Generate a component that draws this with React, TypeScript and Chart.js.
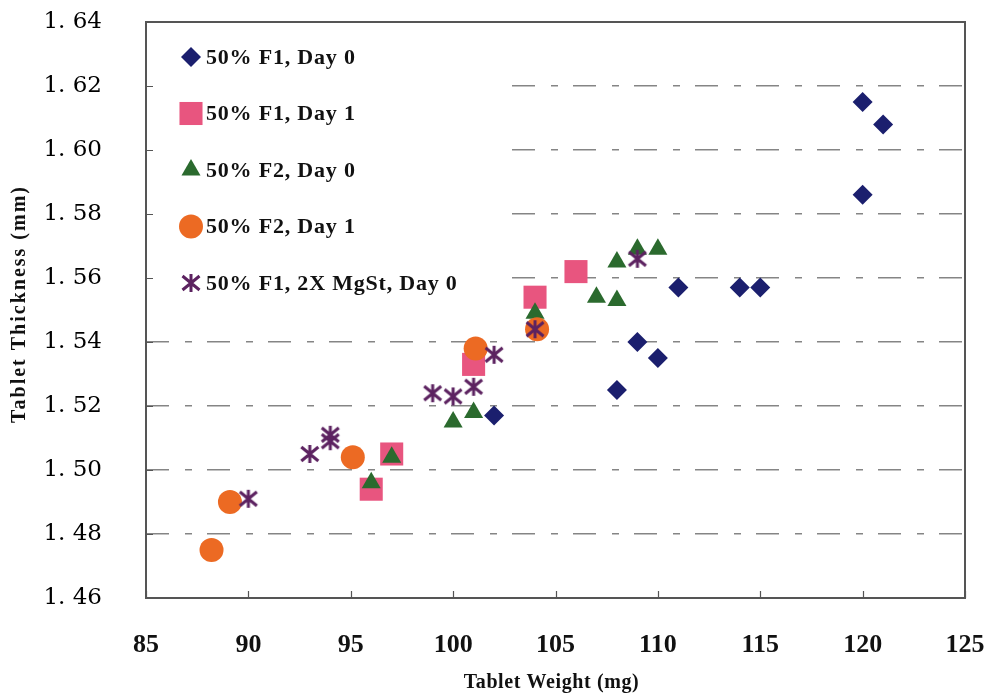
import React, { useEffect, useRef } from 'react';
import { Chart, registerables } from 'chart.js';

Chart.register(...registerables);

// ---- data ----
const seriesLabels = [
  '50% F1, Day 0',
  '50% F1, Day 1',
  '50% F2, Day 0',
  '50% F2, Day 1',
  '50% F1, 2X MgSt, Day 0',
];

const f1Day0X = [102, 108, 109, 110, 111, 114, 115, 120, 120, 121];
const f1Day0Y = [1.517, 1.525, 1.540, 1.535, 1.557, 1.557, 1.557, 1.586, 1.615, 1.608];

const f1Day1X = [96, 97, 101, 104, 106];
const f1Day1Y = [1.494, 1.505, 1.533, 1.554, 1.562];

const f2Day0X = [96, 97, 100, 101, 104, 107, 108, 108, 109, 110];
const f2Day0Y = [1.496, 1.504, 1.515, 1.518, 1.549, 1.554, 1.553, 1.565, 1.569, 1.569];

const f2Day1X = [88.2, 89.1, 95.1, 101.1, 104.1];
const f2Day1Y = [1.475, 1.490, 1.504, 1.538, 1.544];

const mgStX = [90, 93, 94, 94, 99, 100, 101, 102, 104, 109];
const mgStY = [1.491, 1.505, 1.509, 1.511, 1.524, 1.523, 1.526, 1.536, 1.544, 1.566];

const xTickValues = [85, 90, 95, 100, 105, 110, 115, 120, 125];
const yTickValues = [1.46, 1.48, 1.50, 1.52, 1.54, 1.56, 1.58, 1.60, 1.62, 1.64];
const yTickLabels = ['1. 46', '1. 48', '1. 50', '1. 52', '1. 54', '1. 56', '1. 58', '1. 60', '1. 62', '1. 64'];

const xTitle = 'Tablet Weight (mg)';
const yTitle = 'Tablet Thickness (mm)';

// ---- styles ----
const colors = ['#1b1f6e', '#e8557f', '#2b6a2e', '#ec6a23', '#5c2260'];
const SERIF = '"Liberation Serif", "Times New Roman", serif';

function zip(xs: number[], ys: number[]) {
  return xs.map((x, i) => ({ x, y: ys[i] }));
}

function makeStar(color: string) {
  const c = document.createElement('canvas');
  c.width = 22;
  c.height = 22;
  const g = c.getContext('2d')!;
  g.strokeStyle = color;
  g.lineWidth = 3;
  g.beginPath();
  g.moveTo(11, 2);
  g.lineTo(11, 20);
  g.moveTo(2.5, 4);
  g.lineTo(19.5, 18);
  g.moveTo(2.5, 18);
  g.lineTo(19.5, 4);
  g.stroke();
  return c;
}

function drawMarker(ctx: CanvasRenderingContext2D, ds: any, x: number, y: number) {
  const style = ds.pointStyle;
  const r = ds.pointRadius;
  ctx.fillStyle = ds.backgroundColor;
  ctx.beginPath();
  if (style === 'rectRot') {
    ctx.moveTo(x, y - r);
    ctx.lineTo(x + r, y);
    ctx.lineTo(x, y + r);
    ctx.lineTo(x - r, y);
    ctx.closePath();
    ctx.fill();
  } else if (style === 'rect') {
    const h = r * Math.SQRT1_2;
    ctx.fillRect(x - h, y - h, 2 * h, 2 * h);
  } else if (style === 'triangle') {
    ctx.moveTo(x, y - r);
    ctx.lineTo(x + r * Math.sin(Math.PI / 3), y + r / 2);
    ctx.lineTo(x - r * Math.sin(Math.PI / 3), y + r / 2);
    ctx.closePath();
    ctx.fill();
  } else if (style === 'circle') {
    ctx.arc(x, y, r, 0, Math.PI * 2);
    ctx.fill();
  } else if (style instanceof HTMLCanvasElement) {
    ctx.drawImage(style, x - style.width / 2, y - style.height / 2);
  }
}

const framePlugin = {
  id: 'framePlugin',
  beforeDatasetsDraw(chart: any) {
    const { ctx, chartArea: a } = chart;
    ctx.save();
    // legend box (white, covers grid lines)
    ctx.fillStyle = '#ffffff';
    ctx.fillRect(a.left + 1, a.top + 1, 358, 282);
    // legend items
    const items = chart.data.datasets;
    ctx.font = 'bold 22px ' + SERIF;
    ctx.textBaseline = 'middle';
    ctx.textAlign = 'left';
    try { (ctx as any).letterSpacing = '0.8px'; } catch (e) {}
    items.forEach((ds: any, i: number) => {
      const cy = a.top + 35 + i * 56.5;
      drawMarker(ctx, ds, a.left + 45, cy);
      ctx.fillStyle = '#111111';
      ctx.fillText(ds.label, a.left + 60, cy + 1);
    });
    // axis titles
    ctx.fillStyle = '#111111';
    ctx.font = 'bold 20px ' + SERIF;
    ctx.textAlign = 'center';
    try { (ctx as any).letterSpacing = '0.6px'; } catch (e) {}
    ctx.fillText(xTitle, (a.left + a.right) / 2 - 4, 683);
    ctx.save();
    ctx.translate(20, (a.top + a.bottom) / 2 - 6);
    ctx.rotate(-Math.PI / 2);
    try { (ctx as any).letterSpacing = '2px'; } catch (e) {}
    ctx.fillText(yTitle, 0, 0);
    ctx.restore();
    try { (ctx as any).letterSpacing = '0px'; } catch (e) {}
    // frame
    ctx.strokeStyle = '#555555';
    ctx.lineWidth = 2;
    ctx.strokeRect(a.left, a.top, a.right - a.left, a.bottom - a.top);
    // inward tick marks
    ctx.lineWidth = 1.2;
    const xs = chart.scales.x;
    const ys = chart.scales.y;
    ctx.beginPath();
    xTickValues.forEach((v) => {
      const px = Math.round(xs.getPixelForValue(v)) + 0.5;
      ctx.moveTo(px, a.bottom);
      ctx.lineTo(px, a.bottom - 7);
    });
    yTickValues.forEach((v) => {
      const py = Math.round(ys.getPixelForValue(v)) + 0.5;
      ctx.moveTo(a.left, py);
      ctx.lineTo(a.left + 7, py);
    });
    ctx.stroke();
    ctx.restore();
  },
};

export default function App() {
  const ref = useRef<HTMLCanvasElement | null>(null);

  useEffect(() => {
    if (!ref.current) return;
    const star = makeStar(colors[4]);
    const common = { showLine: false, pointBorderWidth: 0, borderWidth: 0 };
    const datasets: any[] = [
      { ...common, label: seriesLabels[0], data: zip(f1Day0X, f1Day0Y), pointStyle: 'rectRot', pointRadius: 10, backgroundColor: colors[0], borderColor: colors[0], order: 4 },
      { ...common, label: seriesLabels[1], data: zip(f1Day1X, f1Day1Y), pointStyle: 'rect', pointRadius: 16.3, backgroundColor: colors[1], borderColor: colors[1], order: 3 },
      { ...common, label: seriesLabels[2], data: zip(f2Day0X, f2Day0Y), pointStyle: 'triangle', pointRadius: 11, backgroundColor: colors[2], borderColor: colors[2], order: 2 },
      { ...common, label: seriesLabels[3], data: zip(f2Day1X, f2Day1Y), pointStyle: 'circle', pointRadius: 12, backgroundColor: colors[3], borderColor: colors[3], order: 1 },
      { ...common, label: seriesLabels[4], data: zip(mgStX, mgStY), pointStyle: star, pointRadius: 10, backgroundColor: colors[4], borderColor: colors[4], order: 0 },
    ];

    const chart = new Chart(ref.current, {
      type: 'scatter',
      data: { datasets },
      plugins: [framePlugin],
      options: {
        animation: false,
        responsive: true,
        maintainAspectRatio: false,
        events: [],
        layout: { padding: 0 },
        plugins: { legend: { display: false }, tooltip: { enabled: false } },
        scales: {
          x: {
            type: 'linear',
            min: 85,
            max: 125,
            afterFit: (s: any) => { s.height = 96; s.paddingLeft = 0; s.paddingRight = 24; },
            afterBuildTicks: (s: any) => { s.ticks = xTickValues.map((v) => ({ value: v })); },
            grid: { display: false, drawTicks: false },
            border: { display: false },
            ticks: {
              padding: 32,
              color: '#111111',
              font: { family: SERIF, size: 26, weight: 'bold' },
              callback: (v: any) => String(v),
            },
            title: { display: false, text: xTitle },
          },
          y: {
            type: 'linear',
            min: 1.46,
            max: 1.64,
            afterFit: (s: any) => { s.width = 146; s.paddingTop = 22; s.paddingBottom = 0; },
            afterBuildTicks: (s: any) => { s.ticks = yTickValues.map((v) => ({ value: v })); },
            grid: { display: true, drawTicks: false, color: '#858585', lineWidth: 1.5, borderDash: [23, 16, 7, 15] } as any,
            border: { display: false, dash: [23, 16, 7, 15], dashOffset: 0 },
            ticks: {
              padding: 44,
              color: '#000000',
              font: { family: '"DejaVu Serif", serif', size: 23 },
              callback: (v: any, i: number) => yTickLabels[i],
            },
            title: { display: false, text: yTitle },
          },
        },
      } as any,
    });
    return () => chart.destroy();
  }, []);

  return (
    <div style={{ position: 'fixed', left: 0, top: 0, width: 989, height: 694, background: '#ffffff' }}>
      <canvas ref={ref} />
    </div>
  );
}
